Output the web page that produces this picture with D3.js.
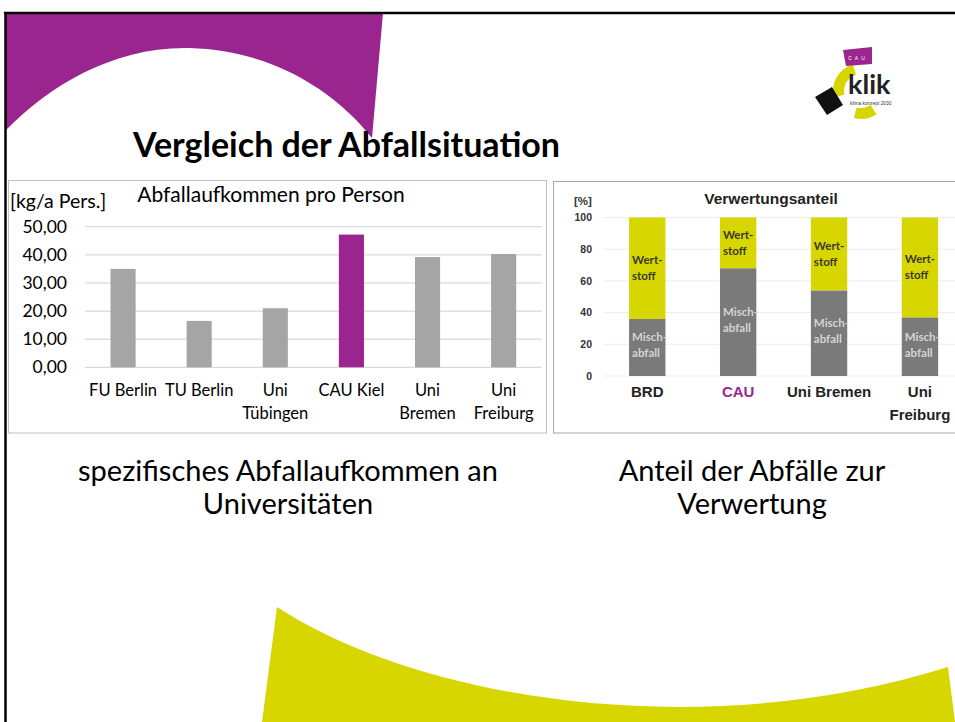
<!DOCTYPE html>
<html><head><meta charset="utf-8">
<script src="https://cdn.jsdelivr.net/npm/d3@7"></script>
<style>body{margin:0;background:#fff}svg{display:block}</style>
</head><body>
<svg id="s" width="955" height="722"></svg>
<script>
// ---------- DATA ----------
const uniCategories = ["FU Berlin","TU Berlin","Uni Tübingen","CAU Kiel","Uni Bremen","Uni Freiburg"];
const uniTickLines = [["FU Berlin"],["TU Berlin"],["Uni","Tübingen"],["CAU Kiel"],["Uni","Bremen"],["Uni","Freiburg"]];
const wastePerPerson = [35.0, 16.5, 21.0, 47.2, 39.2, 40.3];
const wasteTicks = [0,10,20,30,40,50];

const shareCategories = ["BRD","CAU","Uni Bremen","Uni Freiburg"];
const shareTickLines = [["BRD"],["CAU"],["Uni Bremen"],["Uni","Freiburg"]];
const mischabfall = [36, 68, 54, 37];
const wertstoff = [64, 32, 46, 63];
const shareTicks = [0,20,40,60,80,100];

const purple = "#9B258F", yellow = "#D7D600";
const svg = d3.select("#s");
const CAL = "Lato, 'Open Sans', sans-serif";
const ARI = "'Liberation Sans', Arial, sans-serif";

// ---------- decoration ----------
svg.append("rect").attr("width",955).attr("height",722).attr("fill","#fff");
svg.append("path").attr("fill",purple)
  .attr("d","M6,13 L383,13 L372,138 C330,85 265,50 190,48 C115,46 50,85 6,130 Z");
svg.append("path").attr("fill",yellow)
  .attr("d","M277,607 C420,700 700,745 948,667 L955,722 L262,722 Z");
svg.append("line").attr("x1",4).attr("x2",955).attr("y1",13).attr("y2",13).attr("stroke","#000").attr("stroke-width",2.5);
svg.append("line").attr("x1",5.5).attr("x2",5.5).attr("y1",12).attr("y2",722).attr("stroke","#000").attr("stroke-width",2.5);

svg.append("text").attr("x",133).attr("y",157).attr("font-family",CAL).attr("font-weight","bold")
  .attr("font-size",34).attr("fill","#000").text("Vergleich der Abfallsituation");

// logo
const lg = svg.append("g");
const arc = d3.arc().innerRadius(17).outerRadius(28);
lg.append("path").attr("transform","translate(861,91)").attr("fill",yellow)
  .attr("d",arc({startAngle:-1.8,endAngle:-0.3}));
lg.append("path").attr("transform","translate(861,91)").attr("fill",yellow)
  .attr("d",arc({startAngle:2.55,endAngle:3.4}));
lg.append("path").attr("fill",purple).attr("d","M843,50 L872,47 L872,64 L846,66 Z");
lg.append("text").attr("x",858).attr("y",60).attr("text-anchor","middle").attr("font-family",ARI)
  .attr("font-size",5).attr("fill","#fff").attr("letter-spacing",3).text("CAU");
lg.append("path").attr("fill","#111").attr("d","M815,97 L832,87 L843,105 L827,115 Z");
lg.append("text").attr("x",848).attr("y",94).attr("font-family",CAL).attr("font-weight","bold")
  .attr("font-size",27).attr("fill","#222").text("klik");
lg.append("text").attr("x",850).attr("y",105).attr("font-family",ARI)
  .attr("font-size",4.8).attr("fill","#333").text("klima konzept 2030");

// ---------- LEFT CHART ----------
svg.append("rect").attr("x",8.5).attr("y",180.5).attr("width",538).attr("height",252.5)
  .attr("fill","#fff").attr("stroke","#BFBFBF");
const L = svg.append("g");
const xL = d3.scaleBand().domain(uniCategories).range([85,541.7]).paddingInner(0.67).paddingOuter(0.335);
const yL = d3.scaleLinear().domain([0,50]).range([367.3,226.7]);
const deFmt = d3.formatLocale({decimal:",",thousands:".",grouping:[3],currency:["","€"]}).format(".2f");
L.selectAll("line.g").data(wasteTicks).join("line")
  .attr("x1",85).attr("x2",541.7).attr("y1",d=>yL(d)).attr("y2",d=>yL(d))
  .attr("stroke","#D9D9D9").attr("stroke-width",1.2);
const axL = L.append("g").attr("transform","translate(85,0)")
  .call(d3.axisLeft(yL).tickValues(wasteTicks).tickFormat(deFmt).tickSize(0).tickPadding(18));
axL.select(".domain").remove();
axL.selectAll("text").attr("font-family",CAL).attr("font-size",17.5).attr("fill","#000");
L.selectAll("rect.bar").data(wastePerPerson).join("rect")
  .attr("x",(d,i)=>xL(uniCategories[i])).attr("width",xL.bandwidth())
  .attr("y",d=>yL(d)).attr("height",d=>yL(0)-yL(d))
  .attr("fill",(d,i)=>uniCategories[i]==="CAU Kiel"?purple:"#A5A5A5");
uniTickLines.forEach((lines,i)=>{
  const t = L.append("text").attr("text-anchor","middle").attr("font-family",CAL).attr("font-size",16.5).attr("fill","#000");
  lines.forEach((ln,j)=>t.append("tspan").attr("x",xL(uniCategories[i])+xL.bandwidth()/2).attr("y",396+j*23).text(ln));
});
L.append("text").attr("x",10).attr("y",208).attr("font-family",CAL).attr("font-size",19.5).attr("fill","#000").text("[kg/a Pers.]");
L.append("text").attr("x",271).attr("y",202).attr("text-anchor","middle").attr("font-family",CAL).attr("font-size",21).attr("fill","#000").text("Abfallaufkommen pro Person");

// ---------- RIGHT CHART ----------
svg.append("rect").attr("x",553.5).attr("y",181.5).attr("width",420).attr("height",251.5)
  .attr("fill","#fff").attr("stroke","#A6A6A6");
const R = svg.append("g");
const xR = d3.scaleBand().domain(shareCategories).range([601.8,965.4]).paddingInner(0.6).paddingOuter(0.3);
const yR = d3.scaleLinear().domain([0,100]).range([376,217.5]);
R.selectAll("line.g").data(shareTicks).join("line")
  .attr("x1",603).attr("x2",955).attr("y1",d=>yR(d)).attr("y2",d=>yR(d))
  .attr("stroke","#EDEDED").attr("stroke-width",1);
const axR = R.append("g").attr("transform","translate(603,0)")
  .call(d3.axisLeft(yR).tickValues(shareTicks).tickSize(0).tickPadding(11));
axR.select(".domain").remove();
axR.selectAll("text").attr("font-family",ARI).attr("font-weight","bold").attr("font-size",10.5).attr("fill","#333");
const rows = shareCategories.map((c,i)=>({cat:c, misch:mischabfall[i], wert:wertstoff[i]}));
const stack = d3.stack().keys(["misch","wert"])(rows);
const segColor = {misch:"#7A7A7A", wert:yellow};
const segText = {misch:["Misch-","abfall"], wert:["Wert-","stoff"]};
const segTextColor = {misch:"#D4D4D4", wert:"#3a3a2a"};
stack.forEach(layer=>{
  const k = layer.key;
  R.selectAll("rect.s"+k).data(layer).join("rect")
    .attr("x",d=>xR(d.data.cat)).attr("width",xR.bandwidth())
    .attr("y",d=>yR(d[1])).attr("height",d=>yR(d[0])-yR(d[1]))
    .attr("fill",segColor[k]);
  layer.forEach(d=>{
    const cy = (yR(d[0])+yR(d[1]))/2 + (k==="misch"?-6:-4);
    const t = R.append("text").attr("font-family",CAL).attr("font-weight","bold").attr("font-size",11.5).attr("fill",segTextColor[k]);
    segText[k].forEach((ln,j)=>t.append("tspan").attr("x",xR(d.data.cat)+3).attr("y",cy+j*16).text(ln));
  });
});
shareTickLines.forEach((lines,i)=>{
  const t = R.append("text").attr("text-anchor","middle").attr("font-family",ARI).attr("font-weight","bold")
    .attr("font-size",15).attr("fill",shareCategories[i]==="CAU"?purple:"#222");
  lines.forEach((ln,j)=>t.append("tspan").attr("x",xR(shareCategories[i])+xR.bandwidth()/2).attr("y",397+j*23).text(ln));
});
R.append("text").attr("x",574).attr("y",205).attr("font-family",ARI).attr("font-weight","bold").attr("font-size",11.5).attr("fill","#333").text("[%]");
R.append("text").attr("x",771).attr("y",204).attr("text-anchor","middle").attr("font-family",ARI).attr("font-weight","bold").attr("font-size",15.5).attr("fill","#222").text("Verwertungsanteil");

// ---------- captions ----------
const cap = [[288,["spezifisches Abfallaufkommen an","Universitäten"]],[752,["Anteil der Abfälle zur","Verwertung"]]];
cap.forEach(([cx,lines])=>{
  const t = svg.append("text").attr("text-anchor","middle").attr("font-family",CAL).attr("font-size",29).attr("fill","#000");
  lines.forEach((ln,j)=>t.append("tspan").attr("x",cx).attr("y",481+j*33).text(ln));
});
</script>
</body></html>
